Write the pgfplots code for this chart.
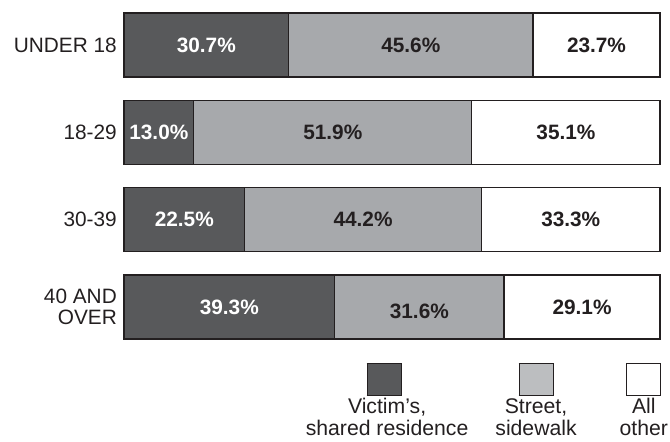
\documentclass[border=0pt]{standalone}
\usepackage{pgfplots}
\pgfplotsset{compat=1.18}
\usepackage{fontspec}
\setmainfont{Liberation Sans}
\definecolor{cdark}{HTML}{58595B}
\definecolor{clight}{HTML}{A7A9AC}
\definecolor{clegl}{HTML}{BCBEC0}
\definecolor{cline}{HTML}{231F20}
\setlength{\fboxsep}{0pt}
\setlength{\fboxrule}{1bp}
\newcommand{\fs}{\fontsize{20.8bp}{21.5bp}\selectfont}
\newcommand{\fl}{\fontsize{21.2bp}{21.7bp}\selectfont}
\newcommand{\swatch}[1]{\fcolorbox{cline}{#1}{\rule{0pt}{31bp}\hspace*{33bp}}}
\pgfplotsset{
  geom/.style={
    at={(124bp,91.3bp)}, anchor=south west,
    scale only axis, width=536bp, height=349.4bp,
    xmin=0, xmax=100, ymin=-0.5, ymax=3.5, y dir=reverse,
    clip=false,
  }
}
\begin{document}
\begin{tikzpicture}
\path[use as bounding box] (0,0) rectangle (670bp,442bp);
\begin{axis}[geom,
  xbar stacked, bar width=64bp,
  axis line style={draw=none}, tick style={draw=none}, major tick length=0pt,
  xtick=\empty, ytick={0,1,2,3},
  yticklabels={UNDER 18,18-29,30-39,{40 AND\\OVER}},
  yticklabel style={align=right, inner sep=0pt, xshift=-7bp, font=\fs, text=cline},
  legend columns=3,
  legend cell align=center,
  legend style={at={(1,0)}, anchor=north east, xshift=10bp, yshift=-10bp,
    draw=none, fill=none, inner sep=0pt, outer sep=0pt,
    font=\fl, text=cline,
    cells={align=center, inner sep=0pt},
    /tikz/column 2/.style={column sep=23bp},
    /tikz/column 4/.style={column sep=39bp}},
]
\addplot[fill=cdark, draw=cline, line width=1.2bp, legend image code/.code={}] coordinates {(30.7,0) (13.0,1) (22.5,2) (39.3,3)};
\addlegendentry{\swatch{cdark}\hspace*{6bp}\\[-3bp]Victim's,\\shared residence}
\addplot[fill=clight, draw=cline, line width=1.2bp, legend image code/.code={}] coordinates {(45.6,0) (51.9,1) (44.2,2) (31.6,3)};
\addlegendentry{\swatch{clegl}\\[-3bp]Street,\\sidewalk}
\addplot[fill=white, draw=cline, line width=1.2bp, legend image code/.code={}] coordinates {(23.7,0) (35.1,1) (33.3,2) (29.1,3)};
\addlegendentry{\swatch{white}\\[-3bp]All\\other}
\end{axis}
\begin{axis}[geom, hide axis]
\addplot[draw=none, mark=none, nodes near coords, point meta=explicit symbolic,
  every node near coord/.append style={anchor=center, text=white, font=\fs\bfseries}]
  coordinates {(15.35,0)[30.7\%] (6.5,1)[13.0\%] (11.25,2)[22.5\%] (19.65,3)[39.3\%]};
\addplot[draw=none, mark=none, nodes near coords, point meta=explicit symbolic,
  every node near coord/.append style={anchor=center, text=cline, font=\fs\bfseries}]
  coordinates {(53.5,0)[45.6\%] (38.95,1)[51.9\%] (44.6,2)[44.2\%] (55.1,3.045)[31.6\%]
               (88.15,0)[23.7\%] (82.45,1)[35.1\%] (83.35,2)[33.3\%] (85.45,3)[29.1\%]};
\end{axis}
\end{tikzpicture}
\end{document}
